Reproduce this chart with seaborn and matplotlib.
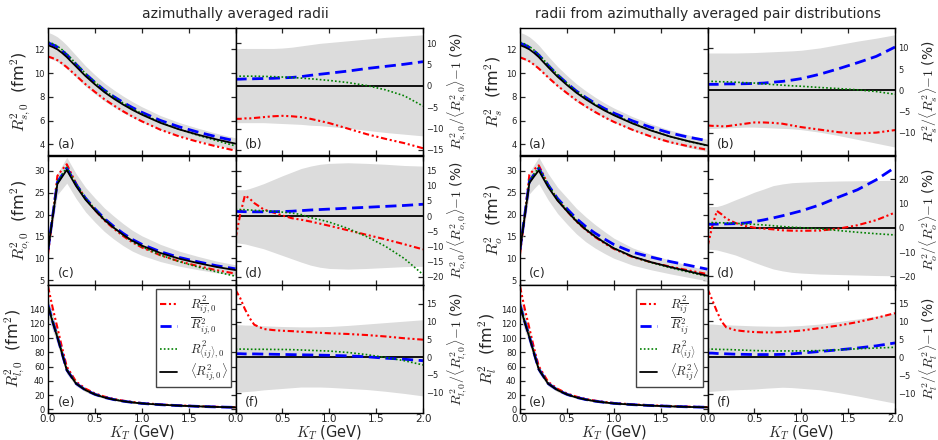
import numpy as np
import seaborn as sns
import matplotlib.pyplot as plt

# transverse pair momentum grid (GeV)
k_t = [0, 0.05, 0.1, 0.15, 0.2, 0.3, 0.4, 0.5, 0.6, 0.7, 0.8, 0.9, 1.0, 1.2, 1.4, 1.6, 1.8, 2.0]

# ---- left block: azimuthally averaged radii ----
# <R^2_ij,0> in fm^2
ar_side_mean = [12.35, 12.2, 12.0, 11.7, 11.35, 10.55, 9.75, 9.05, 8.4, 7.85, 7.35, 6.9, 6.5, 5.8, 5.25, 4.8, 4.4, 4.05]
ar_out_mean = [11.8, 19.4, 27.0, 28.6, 30.2, 26.5, 23.4, 21.0, 18.8, 17.0, 15.4, 14.0, 12.9, 11.2, 9.9, 8.9, 8.0, 7.3]
ar_long_mean = [145, 122, 101, 78, 55, 36, 27, 21, 16.8, 13.8, 11.5, 9.8, 8.4, 6.6, 5.3, 4.3, 3.5, 2.9]
# deviations from <R^2> in %
ar_side_red = [-7.7, -7.7, -7.6, -7.6, -7.5, -7.3, -7.1, -7.0, -7.1, -7.3, -7.7, -8.2, -8.7, -10.0, -11.3, -12.4, -13.4, -14.6]
ar_side_blue = [1.6, 1.6, 1.65, 1.65, 1.7, 1.75, 1.8, 1.9, 2.0, 2.2, 2.5, 2.75, 3.0, 3.5, 4.1, 4.6, 5.1, 5.7]
ar_side_green = [2.3, 2.3, 2.3, 2.3, 2.3, 2.25, 2.2, 2.1, 2.0, 1.85, 1.7, 1.5, 1.3, 0.8, 0.1, -0.9, -2.3, -4.7]
ar_side_hi = [8.8, 8.8, 8.8, 8.8, 8.8, 8.8, 8.8, 8.9, 9.1, 9.4, 9.7, 10.0, 10.2, 10.6, 11.0, 11.4, 11.7, 12.0]
ar_side_lo = [-8.6, -8.6, -8.6, -8.6, -8.6, -8.6, -8.7, -8.8, -8.9, -9.0, -9.2, -9.3, -9.5, -9.9, -10.4, -10.9, -11.3, -11.7]

ar_out_red = [-7.4, 0.5, 6.8, 5.8, 4.3, 2.2, 1.2, 0.2, -0.7, -1.2, -1.8, -2.5, -3.2, -4.7, -6.2, -7.7, -9.3, -11.0]
ar_out_blue = [1.5, 1.5, 1.45, 1.4, 1.4, 1.4, 1.45, 1.5, 1.6, 1.8, 2.0, 2.15, 2.3, 2.6, 2.9, 3.2, 3.5, 3.9]
ar_out_green = [2.2, 2.15, 2.1, 2.0, 1.9, 1.75, 1.6, 1.3, 1.0, 0.5, -0.5, -1.2, -2.0, -4.1, -6.8, -10.0, -14.0, -19.3]
ar_out_hi = [8.7, 8.7, 8.7, 9.1, 9.6, 10.7, 12.0, 13.3, 14.5, 15.7, 16.5, 17.1, 17.4, 17.6, 17.4, 17.1, 16.7, 16.5]
ar_out_lo = [-8.8, -9.0, -9.2, -9.6, -10.0, -10.8, -11.9, -13.0, -14.1, -15.2, -16.2, -16.9, -17.3, -17.5, -17.3, -17.0, -16.7, -16.6]

ar_long_red = [18.9, 16.6, 13.5, 11.0, 9.1, 7.9, 7.6, 7.4, 7.3, 7.1, 7.0, 6.85, 6.7, 6.5, 6.2, 5.8, 5.3, 4.9]
ar_long_blue = [0.95, 0.95, 0.9, 0.9, 0.9, 0.85, 0.8, 0.75, 0.7, 0.65, 0.6, 0.55, 0.5, 0.35, 0.1, -0.3, -0.6, -1.0]
ar_long_green = [2.25, 2.25, 2.25, 2.2, 2.2, 2.2, 2.15, 2.15, 2.1, 2.0, 1.9, 1.8, 1.7, 1.3, 0.7, -0.1, -1.0, -2.2]
ar_long_hi = [9.1, 9.1, 9.0, 9.0, 8.9, 8.8, 8.7, 8.6, 8.55, 8.5, 8.5, 8.55, 8.6, 8.9, 9.3, 9.7, 10.1, 10.5]
ar_long_lo = [-9.9, -9.8, -9.7, -9.6, -9.5, -9.2, -9.0, -8.8, -8.6, -8.4, -8.4, -8.4, -8.5, -8.8, -9.1, -9.6, -10.2, -10.9]

# ---- right block: radii from azimuthally averaged pair distributions ----
pd_side_mean = [12.35, 12.2, 12.0, 11.7, 11.35, 10.5, 9.7, 9.0, 8.35, 7.8, 7.3, 6.85, 6.45, 5.75, 5.15, 4.65, 4.25, 3.9]
pd_out_mean = [11.8, 19.5, 27.2, 28.7, 30.1, 26.3, 23.2, 20.8, 18.5, 16.6, 15.0, 13.6, 12.3, 10.4, 9.1, 8.0, 7.0, 6.0]
pd_long_mean = [145, 122, 101, 78, 56, 36, 27, 21, 16.8, 13.8, 11.5, 9.8, 8.4, 6.6, 5.3, 4.3, 3.5, 2.9]

pd_side_red = [-8.3, -8.4, -8.4, -8.5, -8.5, -8.2, -7.9, -7.6, -7.6, -7.7, -7.9, -8.3, -8.7, -9.3, -9.9, -10.2, -10.0, -9.4]
pd_side_blue = [1.4, 1.4, 1.4, 1.45, 1.5, 1.5, 1.55, 1.6, 1.7, 1.9, 2.1, 2.4, 2.75, 3.8, 5.1, 6.5, 8.0, 10.2]
pd_side_green = [2.1, 2.1, 2.05, 2.0, 2.0, 1.9, 1.8, 1.7, 1.5, 1.35, 1.2, 1.05, 0.95, 0.65, 0.4, 0.1, -0.3, -0.95]
pd_side_hi = [8.8, 8.8, 8.8, 8.8, 8.8, 8.8, 8.85, 8.9, 9.0, 9.1, 9.2, 9.3, 9.45, 10.0, 10.8, 11.6, 12.3, 13.1]
pd_side_lo = [-9.05, -9.0, -9.0, -8.9, -8.9, -8.8, -8.7, -8.7, -8.8, -8.9, -9.0, -9.1, -9.3, -9.9, -10.7, -11.6, -12.5, -13.4]

pd_out_red = [-7.7, 0.5, 7.0, 5.6, 3.8, 2.0, 0.8, 0.1, -0.3, -0.6, -1.0, -1.15, -1.2, -1.1, -0.3, 1.1, 3.2, 6.3]
pd_out_blue = [1.5, 1.5, 1.55, 1.6, 1.65, 1.75, 2.0, 2.6, 3.3, 4.1, 5.0, 6.0, 7.0, 9.5, 12.7, 15.7, 19.8, 24.9]
pd_out_green = [2.2, 2.2, 2.15, 2.1, 2.05, 1.9, 1.65, 1.45, 1.2, 0.9, 0.55, 0.3, 0.1, -0.4, -1.1, -1.8, -2.4, -2.9]
pd_out_hi = [8.8, 8.8, 8.8, 9.3, 10.0, 11.6, 13.1, 14.7, 16.0, 17.4, 18.1, 18.6, 18.8, 19.1, 19.3, 19.4, 19.5, 19.6]
pd_out_lo = [-8.8, -8.9, -9.1, -9.6, -10.1, -11.2, -12.7, -14.2, -15.6, -16.9, -17.7, -18.3, -18.6, -19.0, -19.2, -19.4, -19.6, -19.7]

pd_long_red = [18.9, 15.9, 12.7, 9.9, 8.3, 7.5, 7.2, 7.0, 6.9, 6.9, 7.0, 7.2, 7.4, 8.1, 8.8, 9.75, 10.9, 12.2]
pd_long_blue = [1.2, 1.2, 1.1, 1.05, 1.0, 0.9, 0.85, 0.8, 0.8, 0.8, 0.85, 1.0, 1.2, 1.65, 2.1, 2.6, 3.2, 4.0]
pd_long_green = [2.3, 2.3, 2.25, 2.2, 2.2, 2.1, 2.0, 1.9, 1.85, 1.8, 1.8, 1.8, 1.8, 1.9, 2.1, 2.4, 2.6, 2.8]
pd_long_hi = [9.2, 9.2, 9.1, 9.0, 9.0, 8.9, 8.8, 8.7, 8.65, 8.6, 8.6, 8.7, 8.8, 9.2, 9.9, 10.6, 11.4, 12.2]
pd_long_lo = [-9.4, -9.3, -9.2, -9.1, -9.0, -8.9, -8.8, -8.7, -8.5, -8.35, -8.2, -8.3, -8.5, -8.9, -9.7, -10.6, -11.6, -12.6]

ar_legend = [r"$R^2_{\overline{ij},0}$", r"$\overline{R}^2_{ij,0}$",
             r"$R^2_{\langle ij\rangle,0}$", r"$\langle R^2_{ij,0}\rangle$"]
pd_legend = [r"$R^2_{\overline{ij}}$", r"$\overline{R}^2_{ij}$",
             r"$R^2_{\langle ij\rangle}$", r"$\langle R^2_{ij}\rangle$"]

sns.set_style("ticks")
plt.rcParams["font.family"] = ["DejaVu Sans"]
plt.rcParams.update({
    "mathtext.fontset": "cm",
    "xtick.direction": "in", "ytick.direction": "in",
    "xtick.major.size": 3.5, "ytick.major.size": 3.5,
    "xtick.major.width": 0.9, "ytick.major.width": 0.9,
    "xtick.major.pad": 1.0, "ytick.major.pad": 2.5,
    "axes.linewidth": 1.0, "axes.edgecolor": "black",
})

BAND = "#dcdcdc"
styles = [
    dict(color="red", linestyle=(0, (3, 1.3, 1, 1.3, 1, 1.3)), linewidth=1.5),
    dict(color="blue", linestyle=(0, (4, 2)), linewidth=2.0),
    dict(color="green", linestyle=(0, (1, 1.3)), linewidth=1.2),
    dict(color="black", linestyle="-", linewidth=1.3),
]

fig = plt.figure(figsize=(9.38, 4.40), dpi=100)

W, H = 938.0, 440.0
row_px = [(28, 155.5), (155.5, 284.5), (284.5, 413)]


def setup_axis(ax, ylim, yticks, side):
    ax.set_xlim(0, 2)
    ax.set_ylim(*ylim)
    ax.set_yticks(yticks)
    ax.set_xticks([0, 0.5, 1.0, 1.5, 2.0])
    ax.tick_params(axis="both", top=True, bottom=True, left=True, right=True,
                   labelcolor="#222222")
    ax.tick_params(axis="y", labelsize=6,
                   labelleft=(side == "left"), labelright=(side == "right"))
    ax.tick_params(axis="x", labelsize=7.5)
    for sp in ax.spines.values():
        sp.set_visible(True)
        sp.set_color("black")


def draw_block(x0, title, rows, legend_labels, letters):
    w = 187.5 / W
    fig.text(x0 + w, 1 - 14 / H, title, ha="center", va="center", fontsize=10)
    for r, (row, (t, b)) in enumerate(zip(rows, row_px)):
        mean, red, blue, green, hi, lo, alim, aticks, rlim, rticks, alab, rlab = row
        bottom = 1 - b / H
        h = (b - t) / H
        ax_a = fig.add_axes([x0, bottom, w, h])
        ax_r = fig.add_axes([x0 + w, bottom, w, h])

        mean = np.asarray(mean, dtype=float)
        hi = np.asarray(hi)
        lo = np.asarray(lo)
        # absolute radii: band and curves built from <R^2> and % deviations
        ax_a.fill_between(k_t, mean * (1 + lo / 100), mean * (1 + hi / 100), color=BAND, lw=0)
        ax_r.fill_between(k_t, lo, hi, color=BAND, lw=0)
        ax_r.axhline(0, color="black", lw=1.3)

        for dev, st, lab in zip([red, blue, green], styles[:3], legend_labels[:3]):
            absval = mean * (1 + np.asarray(dev) / 100)
            sns.lineplot(x=k_t, y=absval, ax=ax_a, label=lab, legend=False, **st)
            sns.lineplot(x=k_t, y=dev, ax=ax_r, legend=False, **st)
        sns.lineplot(x=k_t, y=mean, ax=ax_a, label=legend_labels[3], legend=False, **styles[3])

        setup_axis(ax_a, alim, aticks, "left")
        setup_axis(ax_r, rlim, rticks, "right")
        ax_a.set_ylabel(alab, fontsize=11.5, labelpad=1)
        ax_r.yaxis.set_label_position("right")
        ax_r.set_ylabel(rlab, fontsize=10, labelpad=1)

        if r == 2:
            ax_a.set_xticklabels(["0.0", "0.5", "1.0", "1.5", ""])
            ax_r.set_xticklabels(["0.0", "0.5", "1.0", "1.5", "2.0"])
            for ax in (ax_a, ax_r):
                ax.set_xlabel(r"$K_T$ (GeV)", fontsize=10.5)
                ax.xaxis.set_label_coords(0.5, -0.078)
            leg = ax_a.legend(loc="upper right", fontsize=9, frameon=True, fancybox=False,
                              edgecolor="#444444", framealpha=1, handlelength=1.4,
                              handletextpad=1.0, labelspacing=0.05, borderaxespad=0.35,
                              borderpad=0.3)
            leg.get_frame().set_linewidth(1.0)
        else:
            ax_a.tick_params(axis="x", labelbottom=False)
            ax_r.tick_params(axis="x", labelbottom=False)

        ax_a.text(0.05, 0.055, letters[2 * r], transform=ax_a.transAxes, fontsize=9)
        ax_r.text(0.05, 0.055, letters[2 * r + 1], transform=ax_r.transAxes, fontsize=9)


letters = ["(a)", "(b)", "(c)", "(d)", "(e)", "(f)"]
abs_s_ticks = [4, 6, 8, 10, 12]
abs_o_ticks = [5, 10, 15, 20, 25, 30]
abs_l_ticks = [0, 20, 40, 60, 80, 100, 120, 140]

ar_rows = [
    (ar_side_mean, ar_side_red, ar_side_blue, ar_side_green, ar_side_hi, ar_side_lo,
     (3.05, 13.8), abs_s_ticks, (-16.3, 13.6), [-15, -10, -5, 0, 5, 10],
     r"$R^2_{s,0}$  (fm$^2$)", r"$R^2_{s,0}/\langle R^2_{s,0}\rangle{-}1$ (%)"),
    (ar_out_mean, ar_out_red, ar_out_blue, ar_out_green, ar_out_hi, ar_out_lo,
     (4.0, 33.5), abs_o_ticks, (-22.6, 20.0), [-20, -15, -10, -5, 0, 5, 10, 15],
     r"$R^2_{o,0}$  (fm$^2$)", r"$R^2_{o,0}/\langle R^2_{o,0}\rangle{-}1$ (%)"),
    (ar_long_mean, ar_long_red, ar_long_blue, ar_long_green, ar_long_hi, ar_long_lo,
     (-5, 175), abs_l_ticks, (-15.7, 20.4), [-10, -5, 0, 5, 10, 15],
     r"$R^2_{l,0}$  (fm$^2$)", r"$R^2_{l,0}/\langle R^2_{l,0}\rangle{-}1$ (%)"),
]
pd_rows = [
    (pd_side_mean, pd_side_red, pd_side_blue, pd_side_green, pd_side_hi, pd_side_lo,
     (3.05, 13.8), abs_s_ticks, (-15.4, 14.7), [-10, -5, 0, 5, 10],
     r"$R^2_{s}$  (fm$^2$)", r"$R^2_{s}/\langle R^2_{s}\rangle{-}1$ (%)"),
    (pd_out_mean, pd_out_red, pd_out_blue, pd_out_green, pd_out_hi, pd_out_lo,
     (4.0, 33.5), abs_o_ticks, (-23.3, 29.8), [-20, -10, 0, 10, 20],
     r"$R^2_{o}$  (fm$^2$)", r"$R^2_{o}/\langle R^2_{o}\rangle{-}1$ (%)"),
    (pd_long_mean, pd_long_red, pd_long_blue, pd_long_green, pd_long_hi, pd_long_lo,
     (-5, 175), abs_l_ticks, (-15.3, 20.1), [-10, -5, 0, 5, 10, 15],
     r"$R^2_{l}$  (fm$^2$)", r"$R^2_{l}/\langle R^2_{l}\rangle{-}1$ (%)"),
]

draw_block(48 / W, "azimuthally averaged radii", ar_rows, ar_legend, letters)
draw_block(520 / W, "radii from azimuthally averaged pair distributions", pd_rows, pd_legend, letters)

fig.savefig("out.png", dpi=100)
